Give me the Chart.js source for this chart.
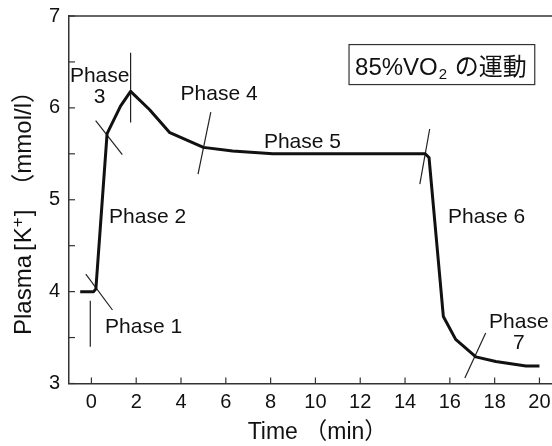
<!DOCTYPE html>
<html>
<head>
<meta charset="utf-8">
<script src="https://cdn.jsdelivr.net/npm/chart.js@4/dist/chart.umd.min.js"></script>
<style>
  html, body { margin: 0; padding: 0; background: #fff; }
  #wrap { width: 552px; height: 446px; }
</style>
</head>
<body>
<div id="wrap"><canvas id="c" width="552" height="446"></canvas></div>
<script>
// ---- Data ----
const timeMin  = [-0.5, 0.1, 0.2, 0.7, 1.3, 1.75, 2.6, 3.5, 5.0, 6.3, 8.1, 14.9, 15.07, 15.71, 16.26, 17.16, 18.05, 19.4, 20.0];
const plasmaK  = [4.0, 4.0, 4.03, 5.72, 6.02, 6.18, 5.98, 5.73, 5.57, 5.53, 5.5, 5.5, 5.46, 3.73, 3.48, 3.29, 3.24, 3.19, 3.19];

// phase boundary marks: [x1, y1] -> [x2, y2]
const phaseMarkX1 = [-0.05, -0.25, 0.19, 1.75, 5.33, 15.10, 17.6];
const phaseMarkY1 = [3.90, 4.19, 5.86, 6.60, 5.955, 5.77, 3.55];
const phaseMarkX2 = [-0.05, 0.94, 1.38, 1.75, 4.76, 14.66, 16.67];
const phaseMarkY2 = [3.40, 3.80, 5.49, 5.84, 5.28, 5.17, 3.06];

// phase labels
const phaseLabels = ['Phase 1', 'Phase 2', 'Phase\n3', 'Phase 4', 'Phase 5', 'Phase 6', 'Phase\n7'];
const phaseLabelX = [2.33, 2.51, 0.37, 5.70, 9.42, 17.64, 19.08];
const phaseLabelY = [3.552, 4.75, 6.278, 6.09, 5.563, 4.75, 3.603];

const xTickValues = [0, 2, 4, 6, 8, 10, 12, 14, 16, 18, 20];
const yTickValues = [3, 3.5, 4, 4.5, 5, 5.5, 6, 6.5, 7];
const yLabelValues = [3, 4, 5, 6, 7];

const xTitle = 'Time （min）';
const yTitleParts = ['Plasma', '[', 'K', '+', ']', '（mmol/l）']; // '+' is superscript
const boxMain = '85%VO';
const boxSub = '2';
const boxTail = ' の運動';
const boxAnchorX = 11.5, boxAnchorY = 6.689;

// ---- Styling ----
const FONT = '"Liberation Sans", Arial, "Noto Sans CJK JP", sans-serif';
const INK = '#111';

const datasets = [{
  data: timeMin.map((t, i) => ({ x: t, y: plasmaK[i] })),
  borderColor: INK,
  borderWidth: 3,
  pointRadius: 0,
  tension: 0,
  borderJoinStyle: 'round',
  fill: false
}];
phaseMarkX1.forEach((x1, i) => {
  datasets.push({
    data: [{ x: x1, y: phaseMarkY1[i] }, { x: phaseMarkX2[i], y: phaseMarkY2[i] }],
    borderColor: '#222',
    borderWidth: 1.2,
    pointRadius: 0,
    fill: false
  });
});

const decor = {
  id: 'decor',
  afterDatasetsDraw(chart) {
    const ctx = chart.ctx;
    const xs = chart.scales.x, ys = chart.scales.y;
    const area = chart.chartArea;
    ctx.save();
    // top frame line
    ctx.strokeStyle = '#333';
    ctx.lineWidth = 1.5;
    ctx.beginPath();
    ctx.moveTo(area.left, area.top);
    ctx.lineTo(chart.width, area.top);
    ctx.stroke();
    // inward tick marks
    ctx.lineWidth = 1.2;
    xs.ticks.forEach(t => {
      const px = xs.getPixelForValue(t.value);
      ctx.beginPath();
      ctx.moveTo(px, area.bottom);
      ctx.lineTo(px, area.bottom - 6);
      ctx.stroke();
    });
    ys.ticks.forEach(t => {
      const py = ys.getPixelForValue(t.value);
      ctx.beginPath();
      ctx.moveTo(area.left, py);
      ctx.lineTo(area.left + 6, py);
      ctx.stroke();
    });
    // phase labels
    ctx.fillStyle = INK;
    ctx.font = '21px ' + FONT;
    ctx.textAlign = 'center';
    ctx.textBaseline = 'alphabetic';
    phaseLabels.forEach((lab, i) => {
      const px = xs.getPixelForValue(phaseLabelX[i]);
      const py = ys.getPixelForValue(phaseLabelY[i]);
      lab.split('\n').forEach((line, j) => {
        ctx.fillText(line, px, py + j * 20.5);
      });
    });
    // x-axis title (visually centred under the plot)
    ctx.font = '23px ' + FONT;
    ctx.textBaseline = 'middle';
    ctx.fillText(xTitle, (area.left + area.right) / 2 + 7, 433);

    // condition box
    const bx = xs.getPixelForValue(boxAnchorX);
    const by = ys.getPixelForValue(boxAnchorY);
    ctx.textAlign = 'left';
    ctx.textBaseline = 'alphabetic';
    ctx.font = '24px ' + FONT;
    const w1 = ctx.measureText(boxMain).width;
    ctx.font = '15px ' + FONT;
    const w2 = ctx.measureText(boxSub).width + 2;
    ctx.font = '24px ' + FONT;
    const w3 = ctx.measureText(boxTail).width;
    const pad = 6;
    const bw = w1 + w2 + w3 + pad * 2 + 2;
    const bh = 40;
    ctx.fillStyle = '#fff';
    ctx.fillRect(bx, by, bw, bh);
    ctx.strokeStyle = '#333';
    ctx.lineWidth = 1.2;
    ctx.strokeRect(bx, by, bw, bh);
    ctx.fillStyle = INK;
    const base = by + 30;
    ctx.fillText(boxMain, bx + pad, base);
    ctx.font = '15px ' + FONT;
    ctx.fillText(boxSub, bx + pad + w1 + 1, base + 4);
    ctx.font = '24px ' + FONT;
    ctx.fillText(boxTail, bx + pad + w1 + w2, base);

    // y-axis title (rotated, with superscript +)
    const gapsBefore = [0, 4, 1, 0, 1, 12];
    const midY = 207;
    const fonts = yTitleParts.map((p, i) => (i === 3 ? '17px ' : '24px ') + FONT);
    const widths = yTitleParts.map((p, i) => { ctx.font = fonts[i]; return ctx.measureText(p).width + gapsBefore[i]; });
    const total = widths.reduce((a, b) => a + b, 0);
    ctx.translate(24, midY);
    ctx.rotate(-Math.PI / 2);
    ctx.textBaseline = 'middle';
    let cx = -total / 2;
    yTitleParts.forEach((p, i) => {
      ctx.font = fonts[i];
      ctx.fillText(p, cx + gapsBefore[i], i === 3 ? -6 : 0);
      cx += widths[i];
    });
    ctx.restore();
  }
};

new Chart(document.getElementById('c'), {
  type: 'line',
  data: { datasets },
  options: {
    responsive: false,
    animation: false,
    events: [],
    layout: { padding: { top: 16, right: 0, bottom: 0, left: 0 } },
    plugins: { legend: { display: false }, tooltip: { enabled: false } },
    scales: {
      x: {
        type: 'linear',
        min: -1,
        max: 20.56,
        afterBuildTicks: s => { s.ticks = xTickValues.map(v => ({ value: v })); },
        afterFit: s => { s.height = 62.5; s.paddingLeft = 0; s.paddingRight = 0; },
        grid: { display: false, drawTicks: false },
        border: { display: true, color: '#333', width: 1.5 },
        ticks: {
          color: INK,
          font: { family: FONT, size: 20 },
          padding: 7,
          maxRotation: 0,
          autoSkip: false,
          callback: v => String(v)
        },
        title: { display: false }
      },
      y: {
        type: 'linear',
        min: 3,
        max: 7,
        afterBuildTicks: s => { s.ticks = yTickValues.map(v => ({ value: v })); },
        afterFit: s => { s.width = 69; s.paddingTop = 0; s.paddingBottom = 0; },
        grid: { display: false, drawTicks: false },
        border: { display: true, color: '#333', width: 1.5 },
        ticks: {
          color: INK,
          font: { family: FONT, size: 20 },
          padding: 9,
          autoSkip: false,
          callback: v => (yLabelValues.includes(v) ? String(v) : '')
        },
        title: { display: false }
      }
    }
  },
  plugins: [decor]
});
</script>
</body>
</html>
